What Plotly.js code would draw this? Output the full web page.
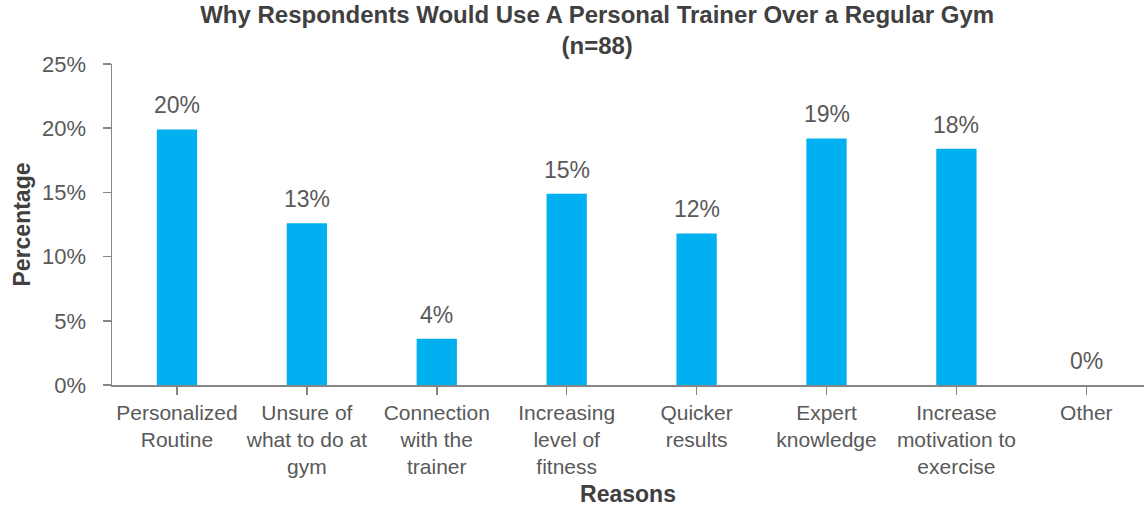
<!DOCTYPE html>
<html>
<head>
<meta charset="utf-8">
<script src="https://cdn.plot.ly/plotly-3.0.1.min.js"></script>
<style>
  html, body { margin: 0; padding: 0; background: #ffffff; }
  #chart { width: 1144px; height: 508px; }
</style>
</head>
<body>
<div id="chart"></div>
<script>
// Reasons respondents gave for choosing a personal trainer (share of respondents, %)
const reasons = [
  "Personalized<br>Routine",
  "Unsure of<br>what to do at<br>gym",
  "Connection<br>with the<br>trainer",
  "Increasing<br>level of<br>fitness",
  "Quicker<br>results",
  "Expert<br>knowledge",
  "Increase<br>motivation to<br>exercise",
  "Other"
];
const percentages = [19.9, 12.6, 3.6, 14.9, 11.8, 19.2, 18.4, 0];
const yTickValues = [0, 5, 10, 15, 20, 25];

const FONT = "'Liberation Sans', Arial, sans-serif";
const TEXT_GREY = "#595959";
const AXIS_GREY = "#868686";

const positions = reasons.map((_, i) => i);

const trace = {
  type: "bar",
  x: positions,
  y: percentages,
  marker: { color: "#00B0F0" },
  hoverinfo: "skip"
};

// Value labels sit a little above each bar, rounded to whole percent
const valueLabels = percentages.map((v, i) => ({
  x: positions[i],
  y: v,
  xref: "x",
  yref: "y",
  text: Math.round(v) + "%",
  showarrow: false,
  yanchor: "bottom",
  yshift: 9,
  font: { family: FONT, size: 23, color: TEXT_GREY }
}));

const layout = {
  width: 1144,
  height: 508,
  margin: { l: 112, r: 0, t: 64, b: 123 },
  paper_bgcolor: "#ffffff",
  plot_bgcolor: "#ffffff",
  showlegend: false,
  bargap: 0.69,
  font: { family: FONT, color: TEXT_GREY },
  annotations: valueLabels,
  title: {
    text: "<b>Why Respondents Would Use A Personal Trainer Over a Regular Gym<br>(n=88)</b>",
    font: { family: FONT, size: 24, color: "#404040" },
    x: 0.522,
    xanchor: "center",
    xref: "container",
    y: 0.955,
    yanchor: "top",
    yref: "container"
  },
  xaxis: {
    range: [-0.5, 7.444],
    tickmode: "array",
    tickvals: positions,
    ticktext: reasons,
    tickson: "boundaries",
    ticks: "outside",
    ticklen: 8,
    tickcolor: AXIS_GREY,
    tickwidth: 1.5,
    showline: true,
    linecolor: AXIS_GREY,
    linewidth: 1.5,
    showgrid: false,
    zeroline: false,
    tickfont: { family: FONT, size: 21, color: TEXT_GREY },
    ticklabelstandoff: 0,
    automargin: false,
    fixedrange: true,
    title: {
      text: "<b>Reasons</b>",
      font: { family: FONT, size: 23, color: "#404040" },
      standoff: 8
    }
  },
  yaxis: {
    range: [0, 25],
    tickmode: "array",
    tickvals: yTickValues,
    ticktext: yTickValues.map(v => v + "%"),
    ticks: "outside",
    ticklen: 8,
    tickcolor: AXIS_GREY,
    tickwidth: 1.5,
    showline: true,
    linecolor: AXIS_GREY,
    linewidth: 1.5,
    showgrid: false,
    zeroline: false,
    tickfont: { family: FONT, size: 22, color: TEXT_GREY },
    ticklabelstandoff: 12,
    automargin: false,
    fixedrange: true,
    title: {
      text: "<b>Percentage</b>",
      font: { family: FONT, size: 23, color: "#404040" },
      standoff: 5
    }
  }
};

Plotly.newPlot("chart", [trace], layout, { displayModeBar: false, staticPlot: true });
</script>
</body>
</html>
